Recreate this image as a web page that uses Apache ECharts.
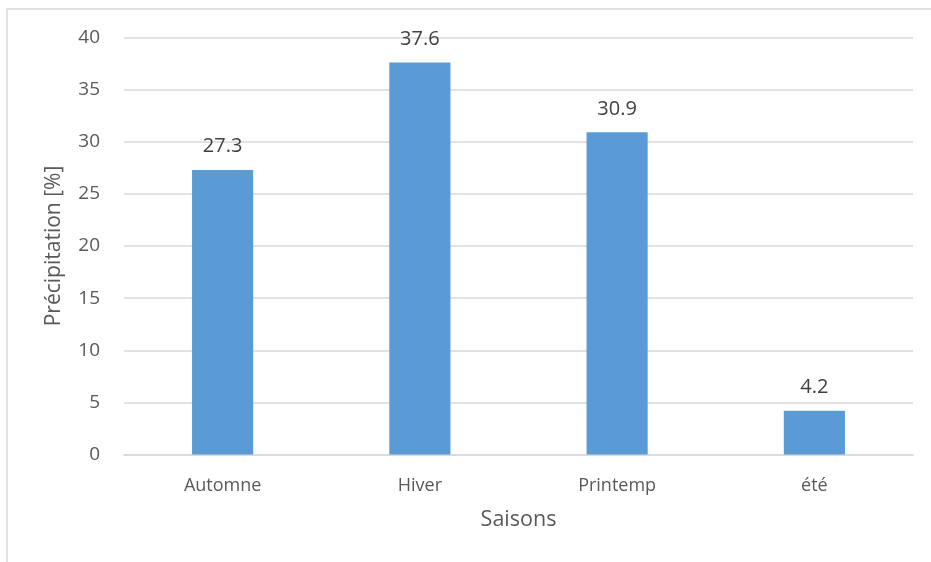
<!DOCTYPE html>
<html><head><meta charset="utf-8">
<script src="https://cdn.jsdelivr.net/npm/echarts@6/dist/echarts.min.js"></script>
<style>html,body{margin:0;padding:0;background:#fff}#c{width:931px;height:562px}</style>
</head><body><div id="c"></div>
<script>
const categories = ['Automne', 'Hiver', 'Printemp', 'été'];
const values = [27.3, 37.6, 30.9, 4.2];
const yTicks = { min: 0, max: 40, interval: 5 };

const chart = echarts.init(document.getElementById('c'));
const font = '"Open Sans", "Liberation Sans", sans-serif';
chart.setOption({
  animation: false,
  graphic: [{ type: 'rect', shape: { x: 7, y: 9, width: 940, height: 580 }, style: { fill: 'none', stroke: '#d9d9d9', lineWidth: 1.5 }, z: -1 }],
  grid: { left: 124, right: 18, top: 37.5, bottom: 107.5 },
  xAxis: {
    type: 'category', data: categories,
    name: 'Saisons', nameLocation: 'middle', nameGap: 54,
    nameTextStyle: { color: '#595959', fontSize: 21.5, fontFamily: font },
    axisLine: { lineStyle: { color: '#d9d9d9', width: 1.5 } },
    axisTick: { show: false },
    axisLabel: { color: '#595959', fontSize: 18, fontFamily: font, margin: 22 }
  },
  yAxis: {
    type: 'value', min: yTicks.min, max: yTicks.max, interval: yTicks.interval,
    name: 'Précipitation [%]', nameLocation: 'middle', nameGap: 59, nameRotate: 90,
    nameTextStyle: { color: '#595959', fontSize: 21, fontFamily: font },
    axisLine: { show: false }, axisTick: { show: false },
    axisLabel: { color: '#595959', fontSize: 19, fontFamily: font, margin: 24 },
    splitLine: { lineStyle: { color: '#d9d9d9', width: 1.5 } }
  },
  series: [{
    type: 'bar', data: values, barWidth: '31%',
    itemStyle: { color: '#5b9bd5' },
    label: { show: true, position: 'top', distance: 13.5, color: '#404040', fontSize: 20, fontFamily: font,
      formatter: p => p.value.toFixed(1) }
  }]
});
</script></body></html>
